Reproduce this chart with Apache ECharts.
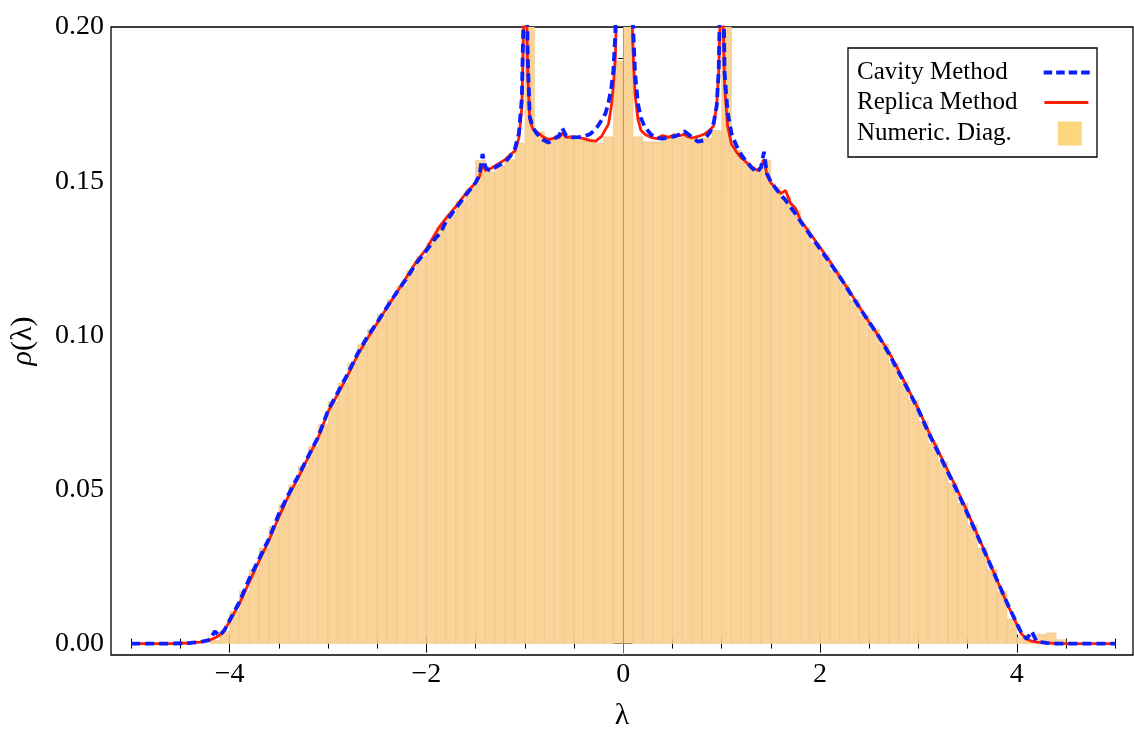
<!DOCTYPE html>
<html>
<head>
<meta charset="utf-8">
<script src="https://cdn.jsdelivr.net/npm/echarts@6/dist/echarts.min.js"></script>
<style>
html,body{margin:0;padding:0;background:#fff;}
#chart{width:1134px;height:736px;}
</style>
</head>
<body>
<div id="chart"></div>
<script>
// ---- Data ----
// curve grid (lambda)
const lambdaGrid = [
  -5.0, -4.8, -4.6, -4.4, -4.3, -4.2, -4.15, -4.1, -4.05, -4.0,
  -3.9, -3.8, -3.7, -3.6, -3.5, -3.4, -3.3, -3.2, -3.1, -3.0,
  -2.9, -2.8, -2.7, -2.6, -2.5, -2.4, -2.3, -2.2, -2.1, -2.0,
  -1.9, -1.86, -1.8, -1.7, -1.6, -1.5, -1.46, -1.43, -1.4, -1.36,
  -1.3, -1.2, -1.15, -1.1, -1.06, -1.03, -1.01, -1.0, -0.99, -0.97,
  -0.95, -0.92, -0.88, -0.82, -0.76, -0.7, -0.65, -0.62, -0.58, -0.52,
  -0.46, -0.4, -0.34, -0.28, -0.22, -0.18, -0.15, -0.12, -0.1, -0.08,
  -0.06, 0, 0.06, 0.08, 0.1, 0.12, 0.15, 0.18, 0.22, 0.28,
  0.34, 0.4, 0.46, 0.52, 0.58, 0.62, 0.65, 0.7, 0.76, 0.82,
  0.88, 0.92, 0.95, 0.97, 0.99, 1.0, 1.01, 1.03, 1.06, 1.1,
  1.15, 1.2, 1.3, 1.36, 1.4, 1.43, 1.46, 1.5, 1.6, 1.65,
  1.7, 1.75, 1.8, 1.9, 2.0, 2.1, 2.2, 2.3, 2.4, 2.5,
  2.6, 2.7, 2.8, 2.9, 3.0, 3.1, 3.2, 3.3, 3.4, 3.5,
  3.6, 3.7, 3.8, 3.9, 4.0, 4.05, 4.1, 4.15, 4.2, 4.3,
  4.4, 4.6, 4.8, 5.0
];
const cavityRho = [
  0, 0, 0, 0.0002, 0.0005, 0.0012, 0.004, 0.0025, 0.0045, 0.0075,
  0.0135, 0.021, 0.0275, 0.034, 0.042, 0.0485, 0.0545, 0.0608, 0.067, 0.0755,
  0.0815, 0.0875, 0.094, 0.0995, 0.1042, 0.1092, 0.114, 0.1185, 0.1235, 0.1275,
  0.1318, 0.133, 0.137, 0.1412, 0.1455, 0.1495, 0.152, 0.1588, 0.1545, 0.1535,
  0.1545, 0.1562, 0.158, 0.1605, 0.1655, 0.177, 0.21, 0.32, 0.23, 0.19,
  0.171, 0.1675, 0.1655, 0.1635, 0.1625, 0.1638, 0.1648, 0.1672, 0.1648, 0.1642,
  0.1643, 0.1645, 0.1652, 0.1668, 0.1698, 0.172, 0.1755, 0.1805, 0.186, 0.198,
  0.24, 0.4, 0.3, 0.23, 0.2, 0.185, 0.175, 0.1705, 0.1675, 0.1652,
  0.164, 0.1638, 0.1642, 0.1645, 0.1652, 0.1662, 0.1655, 0.1642, 0.1628, 0.1632,
  0.1658, 0.169, 0.1745, 0.186, 0.22, 0.32, 0.23, 0.185, 0.1725, 0.1655,
  0.1615, 0.1585, 0.1545, 0.1528, 0.1545, 0.1595, 0.1525, 0.1498, 0.1455, 0.1438,
  0.1415, 0.1395, 0.137, 0.1325, 0.128, 0.1235, 0.119, 0.114, 0.109, 0.1042,
  0.0995, 0.094, 0.088, 0.082, 0.0758, 0.0685, 0.062, 0.0555, 0.049, 0.042,
  0.035, 0.0278, 0.0205, 0.0132, 0.0065, 0.0032, 0.0015, 0.004, 0.0007, 0.0002,
  0, 0, 0, 0
];
const replicaRho = [
  0, 0, 0, 0.0002, 0.0005, 0.0012, 0.0018, 0.0028, 0.0045, 0.0072,
  0.013, 0.020, 0.0268, 0.0335, 0.041, 0.048, 0.054, 0.0605, 0.0668, 0.0752,
  0.081, 0.087, 0.0935, 0.099, 0.104, 0.109, 0.114, 0.119, 0.124, 0.128,
  0.1335, 0.1355, 0.138, 0.1418, 0.146, 0.1495, 0.1515, 0.1555, 0.1535, 0.1538,
  0.155, 0.157, 0.1585, 0.1598, 0.164, 0.174, 0.205, 0.32, 0.22, 0.185,
  0.170, 0.167, 0.166, 0.1645, 0.1635, 0.164, 0.1642, 0.1655, 0.1642, 0.1644,
  0.1642, 0.1638, 0.1632, 0.163, 0.1645, 0.1668, 0.1685, 0.1745, 0.181, 0.19,
  0.215, 0.4, 0.26, 0.215, 0.192, 0.178, 0.170, 0.1665, 0.1652, 0.1642,
  0.1638, 0.1648, 0.1642, 0.165, 0.1648, 0.1652, 0.1645, 0.164, 0.1645, 0.1652,
  0.1665, 0.168, 0.175, 0.185, 0.21, 0.32, 0.21, 0.181, 0.168, 0.162,
  0.1595, 0.1575, 0.1548, 0.1535, 0.1545, 0.157, 0.152, 0.1495, 0.146, 0.147,
  0.1428, 0.1412, 0.1375, 0.133, 0.1285, 0.124, 0.119, 0.1142, 0.1092, 0.1042,
  0.0995, 0.0945, 0.0885, 0.0822, 0.076, 0.069, 0.0625, 0.056, 0.0495, 0.0425,
  0.0352, 0.028, 0.0205, 0.013, 0.0062, 0.003, 0.0015, 0.0008, 0.0005, 0.0002,
  0, 0, 0, 0
];
// histogram (numerical diagonalisation): first bin edge, bin width, bin heights
const histStart = -4.2;
const histBinWidth = 0.1;
const histHeights = [
  0.001, 0.004, 0.0105, 0.017, 0.024, 0.031, 0.038, 0.045, 0.0515, 0.0575,
  0.064, 0.071, 0.0785, 0.0845, 0.091, 0.097, 0.102, 0.1067, 0.1116, 0.116,
  0.121, 0.1255, 0.130, 0.135, 0.139, 0.1435, 0.1475, 0.1568, 0.153, 0.155,
  0.157, 0.1624, 0.26, 0.166, 0.164, 0.165, 0.164, 0.164, 0.163, 0.1624,
  0.1644, 0.189, 0.26, 0.1644, 0.1628, 0.1628, 0.164, 0.164, 0.165, 0.164,
  0.164, 0.1664, 0.26, 0.160, 0.156, 0.154, 0.1568, 0.148, 0.145, 0.1405,
  0.135, 0.130, 0.126, 0.121, 0.1165, 0.1115, 0.1065, 0.102, 0.097, 0.091,
  0.085, 0.079, 0.072, 0.065, 0.059, 0.052, 0.0455, 0.0385, 0.031, 0.024,
  0.017, 0.008, 0.002, 0.001, 0.003, 0.0035, 0.0013
];
// axis ticks
const xMajorTicks = [-4, -2, 0, 2, 4];
const xMinorTicks = [-5, -4.5, -3.5, -3, -2.5, -1.5, -1, -0.5, 0.5, 1, 1.5, 2.5, 3, 3.5, 4.5, 5];
const yMajorTicks = [0, 0.05, 0.10, 0.15, 0.20];
const yMinorTicks = [0.01, 0.02, 0.03, 0.04, 0.06, 0.07, 0.08, 0.09, 0.11, 0.12, 0.13, 0.14, 0.16, 0.17, 0.18, 0.19];
const seriesNames = ['Cavity Method', 'Replica Method', 'Numeric. Diag.'];

// ---- Chart ----
const FONT = "'Liberation Serif', 'DejaVu Serif', serif";
const cavityData = lambdaGrid.map((x, i) => [x, cavityRho[i]]);
const replicaData = lambdaGrid.map((x, i) => [x, replicaRho[i]]);
const histData = histHeights.map((h, i) => {
  const lo = +(histStart + i * histBinWidth).toFixed(2);
  return [lo, +(lo + histBinWidth).toFixed(2), h];
});

const X_MIN = -5.205, X_MAX = 5.18, Y_MIN = -0.0037, Y_MAX = 0.2;
const BLUE = '#0A1EFF', RED = '#FF1E00';

function xAxisDef(pos, ticks, len, labels) {
  return {
    type: 'value', position: pos, min: X_MIN, max: X_MAX,
    axisLine: { show: false },
    splitLine: { show: false },
    axisTick: { show: true, inside: true, length: len, customValues: ticks, lineStyle: { color: '#000', width: 1 } },
    axisLabel: labels ? {
      show: true, customValues: ticks, margin: 6, color: '#000', fontFamily: FONT, fontSize: 28,
      formatter: v => (v < 0 ? '\u2212' + Math.abs(v) : String(v))
    } : { show: false },
    name: labels ? 'λ' : '', nameLocation: 'middle', nameGap: 46,
    nameTextStyle: { color: '#000', fontFamily: FONT, fontSize: 30 }
  };
}
function yAxisDef(pos, ticks, len, labels) {
  return {
    type: 'value', position: pos, min: Y_MIN, max: Y_MAX,
    axisLine: { show: false },
    splitLine: { show: false },
    axisTick: { show: true, inside: true, length: len, customValues: ticks, lineStyle: { color: '#000', width: 1 } },
    axisLabel: labels ? {
      show: true, customValues: ticks, margin: 7, color: '#000', fontFamily: FONT, fontSize: 28,
      formatter: v => v.toFixed(2)
    } : { show: false },
    name: labels ? '{i|ρ}(λ)' : '', nameLocation: 'middle', nameGap: 73,
    nameTextStyle: { color: '#000', fontFamily: FONT, fontSize: 30,
      rich: { i: { fontStyle: 'italic', fontFamily: FONT, fontSize: 30, color: '#000' } } }
  };
}
// legend icon: invisible leading move-to pads the icon so all keys line up at the right
function legendDef(name, top, icon, iconW, color) {
  return {
    data: [{ name: name, icon: icon, itemStyle: { color: color, borderWidth: 0 } }],
    left: 857, top: top, padding: 0, align: 'right',
    itemWidth: iconW, itemHeight: 24, symbolKeepAspect: true,
    textStyle: { fontFamily: FONT, fontSize: 25, color: '#000' }
  };
}

const chart = echarts.init(document.getElementById('chart'), null, { renderer: 'canvas' });
chart.setOption({
  animation: false,
  backgroundColor: '#fff',
  grid: { left: 109, right: 1, top: 27, bottom: 75, show: true, borderColor: '#000', borderWidth: 1.3, backgroundColor: 'transparent' },
  xAxis: [
    xAxisDef('bottom', xMajorTicks, 9, true),
    xAxisDef('bottom', xMinorTicks, 5, false),
    xAxisDef('top', xMajorTicks, 9, false),
    xAxisDef('top', xMinorTicks, 5, false)
  ],
  yAxis: [
    yAxisDef('left', yMajorTicks, 9, true),
    yAxisDef('left', yMinorTicks, 5, false),
    yAxisDef('right', yMajorTicks, 9, false),
    yAxisDef('right', yMinorTicks, 5, false)
  ],
  legend: [
    legendDef(seriesNames[0], 60, 'path://M-31,2M0,0h8.5v4h-8.5z M12.5,0h8.5v4h-8.5z M25,0h8.5v4h-8.5z M37.5,0h8.5v4h-8.5z', 77, BLUE),
    legendDef(seriesNames[1], 90, 'path://M-22,1.5M0,0h44v3h-44z', 66, RED),
    legendDef(seriesNames[2], 121, 'path://M-41,12M0,0h24v24h-24z', 65, '#FDD67C')
  ],
  graphic: { elements: [
    { type: 'rect', z: 1, shape: { x: 848, y: 48, width: 249, height: 109 },
      style: { fill: '#fff', stroke: '#000', lineWidth: 1.3 } }
  ] },
  series: [
    {
      name: seriesNames[2], type: 'custom', clip: true, z: 1,
      xAxisIndex: 0, yAxisIndex: 0,
      itemStyle: { color: '#F9D398' },
      encode: { x: [0, 1], y: 2 },
      data: histData,
      renderItem: function (params, api) {
        const p0 = api.coord([api.value(0), api.value(2)]);
        const p1 = api.coord([api.value(1), 0]);
        return {
          type: 'rect',
          shape: { x: p0[0], y: p0[1], width: p1[0] - p0[0], height: p1[1] - p0[1] },
          style: { fill: '#F9D398', stroke: 'rgba(228,185,125,0.55)', lineWidth: 0.7 }
        };
      },
      markLine: {
        silent: true, symbol: 'none', label: { show: false },
        lineStyle: { color: 'rgba(150,140,125,0.75)', type: 'solid', width: 1 },
        data: [{ xAxis: 0 }]
      }
    },
    {
      name: seriesNames[1], type: 'line', z: 3, xAxisIndex: 0, yAxisIndex: 0,
      data: replicaData, symbol: 'none', showSymbol: false, clip: true,
      color: RED,
      lineStyle: { color: RED, width: 2.8, type: 'solid' }
    },
    {
      name: seriesNames[0], type: 'line', z: 4, xAxisIndex: 0, yAxisIndex: 0,
      data: cavityData, symbol: 'none', showSymbol: false, clip: true,
      color: BLUE,
      lineStyle: { color: BLUE, width: 3.8, type: [9, 5] }
    }
  ]
});
</script>
</body>
</html>
